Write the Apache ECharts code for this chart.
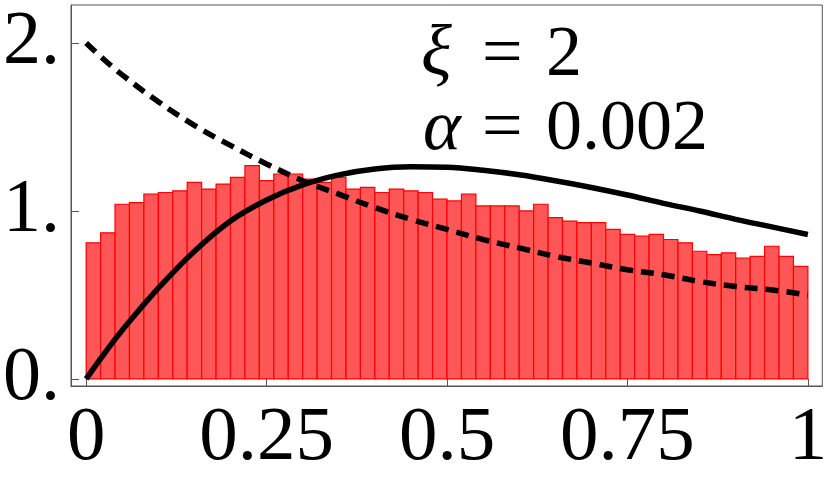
<!DOCTYPE html>
<html>
<head>
<meta charset="utf-8">
<script src="https://cdn.jsdelivr.net/npm/echarts@6/dist/echarts.min.js"></script>
<style>
  html, body { margin: 0; padding: 0; background: #fff; }
  #main { width: 830px; height: 479px; }
</style>
</head>
<body>
<div id="main"></div>
<script>
// histogram: 50 bins of width 0.02 on [0, 1]
var binWidth = 0.02;
var binHeights = [
  0.81, 0.87, 1.04, 1.05, 1.10, 1.11, 1.12, 1.17, 1.13, 1.16,
  1.20, 1.27, 1.18, 1.22, 1.22, 1.19, 1.17, 1.20, 1.13, 1.14,
  1.11, 1.13, 1.12, 1.11, 1.07, 1.06, 1.10, 1.03, 1.03, 1.03,
  1.00, 1.04, 0.96, 0.94, 0.93, 0.93, 0.89, 0.86, 0.85, 0.86,
  0.83, 0.81, 0.76, 0.74, 0.75, 0.72, 0.73, 0.79, 0.73, 0.67
];

// curves
var curveX = [0, 0.025, 0.05, 0.1, 0.15, 0.2, 0.25, 0.3, 0.35, 0.4, 0.45, 0.5,
  0.55, 0.6, 0.65, 0.7, 0.75, 0.8, 0.85, 0.9, 0.95, 1];
var solidY = [0, 0.15, 0.29, 0.54, 0.76, 0.94, 1.065, 1.155, 1.215, 1.25, 1.263, 1.26,
  1.242, 1.215, 1.18, 1.14, 1.095, 1.045, 1.0, 0.95, 0.905, 0.86];
var dashedY = [2.0, 1.90, 1.81, 1.65, 1.51, 1.39, 1.28, 1.18, 1.10, 1.02, 0.95, 0.89,
  0.83, 0.78, 0.73, 0.69, 0.65, 0.62, 0.58, 0.55, 0.53, 0.50];

var xTicks = [0, 0.25, 0.5, 0.75, 1];
var xTickLabels = ['0', '0.25', '0.5', '0.75', '1'];
var yTicks = [0, 1, 2];
var yTickLabels = ['0.', '1.', '2.'];

var serif = 'Liberation Serif';

var bins = binHeights.map(function (h, i) {
  return [i * binWidth, (i + 1) * binWidth, h];
});
function pairs(xs, ys) {
  return xs.map(function (x, i) { return [x, ys[i]]; });
}
// one piece of the annotation text
function label(str, left, top, italic) {
  return {
    text: str, left: left, top: top, padding: 0,
    textStyle: {
      color: '#000', fontFamily: serif, fontSize: 72, lineHeight: 72,
      fontWeight: 'normal', fontStyle: italic ? 'italic' : 'normal'
    }
  };
}

var myChart = echarts.init(document.getElementById('main'));
myChart.setOption({
  animation: false,
  title: [
    label('ξ', 421, 20, true),
    label('=', 482, 20, false),
    label('2', 546, 20, false),
    label('α', 423, 94, true),
    label('=', 482, 94, false),
    label('0.002', 546, 94, false)
  ],
  grid: {
    left: 64, top: 5, right: 4, bottom: 93,
    show: true, borderColor: '#555', borderWidth: 1
  },
  xAxis: {
    type: 'value',
    min: -0.021, max: 1.02,
    splitLine: { show: false },
    axisLine: { onZero: false, lineStyle: { color: '#555', width: 1 } },
    axisTick: { inside: true, length: 7, lineStyle: { color: '#555' }, customValues: xTicks },
    axisLabel: {
      customValues: xTicks,
      formatter: function (v) { return xTickLabels[xTicks.indexOf(v)]; },
      color: '#000', fontFamily: serif, fontSize: 77, margin: 14
    }
  },
  yAxis: {
    type: 'value',
    min: -0.042, max: 2.226,
    splitLine: { show: false },
    axisLine: { onZero: false, lineStyle: { color: '#555', width: 1 } },
    axisTick: { inside: true, length: 8, lineStyle: { color: '#555' }, customValues: yTicks },
    axisLabel: {
      customValues: yTicks,
      formatter: function (v) { return yTickLabels[yTicks.indexOf(v)]; },
      color: '#000', fontFamily: serif, fontSize: 76, margin: 11
    }
  },
  series: [
    {
      type: 'custom',
      data: bins,
      encode: { x: [0, 1], y: 2 },
      renderItem: function (params, api) {
        var p0 = api.coord([api.value(0), 0]);
        var p1 = api.coord([api.value(1), api.value(2)]);
        return {
          type: 'rect',
          shape: { x: p0[0], y: p1[1], width: p1[0] - p0[0], height: p0[1] - p1[1] },
          style: { fill: '#ff5757', stroke: '#ff0000', lineWidth: 1.2 }
        };
      }
    },
    {
      type: 'line',
      data: pairs(curveX, dashedY),
      smooth: 0.4,
      symbol: 'none',
      lineStyle: { color: '#000', width: 5.5, type: [13, 8] }
    },
    {
      type: 'line',
      data: pairs(curveX, solidY),
      smooth: 0.4,
      symbol: 'none',
      lineStyle: { color: '#000', width: 5.5 }
    }
  ]
});
</script>
</body>
</html>
